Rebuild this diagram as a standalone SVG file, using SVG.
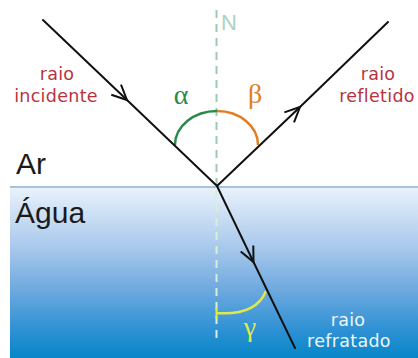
<svg xmlns="http://www.w3.org/2000/svg" width="418" height="358" viewBox="0 0 418 358">
<style>
.ray{fill:none;stroke:#111;stroke-width:2;stroke-linecap:round}
.lbl{font-family:"DejaVu Sans","Liberation Sans",sans-serif;font-size:17.5px;letter-spacing:0.3px;text-anchor:middle}
.red{fill:#b8323e}
.big{font-family:"Liberation Sans",Arial,sans-serif;font-size:30px;fill:#1a1a1a}
.greek{font-family:"Liberation Serif","DejaVu Serif",serif;font-size:28px;text-anchor:middle}
</style>
<defs>
<linearGradient id="water" x1="0" y1="0" x2="0" y2="1">
<stop offset="0" stop-color="#eaf2fb"/>
<stop offset="0.35" stop-color="#a9c9ec"/>
<stop offset="0.6" stop-color="#6ea9df"/>
<stop offset="0.85" stop-color="#2a90d3"/>
<stop offset="1" stop-color="#0686c8"/>
</linearGradient>
<marker id="chev" markerUnits="userSpaceOnUse" markerWidth="20" markerHeight="20" viewBox="-16 -10 20 20" refX="0" refY="0" orient="auto">
<path d="M-15,-7 L0,0 L-15,7" fill="none" stroke="#111" stroke-width="2" stroke-linejoin="miter"/>
</marker>
</defs>
<rect width="418" height="358" fill="#ffffff"/>
<g id="water-region">
<rect x="10" y="187" width="408" height="171" fill="url(#water)"/>
<line x1="10" y1="187" x2="418" y2="187" stroke="#a2c6d8" stroke-width="2"/>
</g>
<g id="normal">
<line x1="216.5" y1="10" x2="216.5" y2="187" stroke="#9ccab4" stroke-width="2" stroke-dasharray="8,6"/>
<line x1="216.5" y1="190" x2="216.5" y2="343" stroke="#d6f0d6" stroke-width="2" stroke-dasharray="8,6"/>
<text x="221" y="30" font-family="Liberation Sans, Arial, sans-serif" font-size="22" fill="#a8d4c4">N</text>
</g>
<g id="angles">
<path d="M175,145 A42,34 0 0 1 217,111" fill="none" stroke="#2a8a4c" stroke-width="2.5"/>
<path d="M217,111 A41,34 0 0 1 258,145" fill="none" stroke="#e07e22" stroke-width="2.5"/>
<path d="M216,313 Q256,316 266,291" fill="none" stroke="#dfe94a" stroke-width="2.5"/>
<line x1="216.5" y1="307" x2="216.5" y2="319" stroke="#dfe94a" stroke-width="2"/>
<text class="greek" x="181" y="104" fill="#2a8a4c">α</text>
<text class="greek" x="255" y="103" fill="#e07e22">β</text>
<text class="greek" x="250" y="336" fill="#dfe94a" font-size="23">γ</text>
</g>
<g id="connectors">
<path id="incident" class="ray" d="M43,20 L127,100 L217,186" marker-mid="url(#chev)"/>
<path id="reflected" class="ray" d="M217,186 L300,107 L388,22" marker-mid="url(#chev)"/>
<path id="refracted" class="ray" d="M217,186 L253.5,262 L295,348" marker-mid="url(#chev)"/>
</g>
<g id="label-incidente">
<text class="lbl red" x="57" y="80">raio</text>
<text class="lbl red" x="56" y="102">incidente</text>
</g>
<g id="label-refletido">
<text class="lbl red" x="378" y="80">raio</text>
<text class="lbl red" x="377" y="102">refletido</text>
</g>
<g id="label-refratado">
<text class="lbl" x="348" y="326" fill="#eef6fc">raio</text>
<text class="lbl" x="349" y="347" fill="#eef6fc">refratado</text>
</g>
<g id="media">
<text class="big" x="16" y="174">Ar</text>
<text class="big" x="15" y="223">Água</text>
</g>
</svg>
